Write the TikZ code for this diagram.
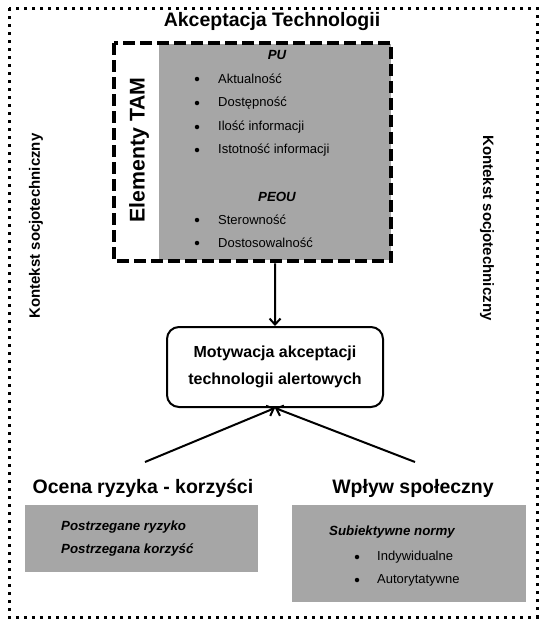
\documentclass[tikz,border=0pt]{standalone}
\usepackage{fontspec}
\setmainfont{Liberation Sans}
\usetikzlibrary{arrows.meta}
\definecolor{boxgray}{RGB}{166,166,166}
\begin{document}
\begin{tikzpicture}[x=1pt,y=1pt,
  outerframe/.style={line width=3pt, dash pattern=on 3pt off 5pt},
  tamframe/.style={line width=4pt, dash pattern=on 12pt off 5pt},
  grayarea/.style={fill=boxgray, inner sep=0pt, anchor=north west},
  itemtxt/.style={font=\fontsize{13}{15}\selectfont, anchor=west, inner sep=0pt},
  bulletdot/.style={circle, fill, inner sep=0pt, minimum size=4.5pt},
  headtxt/.style={font=\fontsize{13.3}{15}\selectfont\bfseries\itshape, inner sep=0pt},
  bigtxt/.style={font=\fontsize{19.5}{23}\selectfont\bfseries, inner sep=0pt},
  sidetxt/.style={font=\fontsize{15}{18}\selectfont\bfseries, inner sep=0pt},
  motivbox/.style={draw, line width=2pt, rounded corners=12pt, minimum width=216pt, minimum height=80pt, align=center, font=\fontsize{16}{27}\selectfont\bfseries},
  arr/.style={line width=2pt, -{Straight Barb[length=6pt,width=11pt,line width=2pt]}}
]
\useasboundingbox (0,0) rectangle (547,-627);
% outer dotted frame
\draw[outerframe] (9,-8) rectangle (537,-617);
% title
\node[bigtxt] (title) at (272,-21) {Akceptacja Technologii};
% TAM box
\node[grayarea, minimum width=232pt, minimum height=216pt] (tamgray) at (159,-44) {};
\draw[tamframe] (114,-43) rectangle (391,-261);
\node[font=\fontsize{21.3}{25}\selectfont\bfseries, rotate=90, inner sep=0pt] (tamlabel) at (139,-150) {Elementy TAM};
\node[headtxt] (pu) at (277,-55) {PU};
\node[bulletdot] (b1) at (197,-79) {};
\node[itemtxt] (i1) at (218,-79) {Aktualność};
\node[bulletdot] (b2) at (197,-103) {};
\node[itemtxt] (i2) at (218,-103) {Dostępność};
\node[bulletdot] (b3) at (197,-127) {};
\node[itemtxt] (i3) at (218,-127) {Ilość informacji};
\node[bulletdot] (b4) at (197,-150) {};
\node[itemtxt] (i4) at (218,-150) {Istotność informacji};
\node[headtxt] (peou) at (277,-197) {PEOU};
\node[bulletdot] (b5) at (197,-220) {};
\node[itemtxt] (i5) at (218,-220) {Sterowność};
\node[bulletdot] (b6) at (197,-243) {};
\node[itemtxt] (i6) at (218,-243) {Dostosowalność};
% motivation box
\node[motivbox] (motiv) at (275,-367) {Motywacja akceptacji\\technologii alertowych};
\draw[arr] (tamgray.south) ++(0,-3) -- (motiv.north);
% side labels
\node[sidetxt, rotate=90] (ctxl) at (36,-226) {Kontekst socjotechniczny};
\node[sidetxt, rotate=-90] (ctxr) at (487,-228) {Kontekst socjotechniczny};
% bottom arrows
\coordinate (la) at (145,-462);
\coordinate (ra) at (415,-462);
\draw[arr] (la) -- (motiv.south);
\draw[arr] (ra) -- (motiv.south);
% bottom headings
\node[bigtxt] (risk) at (143,-488) {Ocena\hspace{0.25em}ryzyka - korzyści};
\node[bigtxt] (soc) at (413,-488) {Wpływ społeczny};
% left gray box
\node[grayarea, minimum width=233pt, minimum height=67pt] (riskbox) at (25,-505) {};
\node[headtxt, anchor=west] (r1) at (61,-527) {Postrzegane ryzyko};
\node[headtxt, anchor=west] (r2) at (61,-550) {Postrzegana korzyść};
% right gray box
\node[grayarea, minimum width=234pt, minimum height=97pt] (socbox) at (292,-505) {};
\node[headtxt, anchor=west] (s0) at (329,-532) {Subiektywne normy};
\node[bulletdot] (sb1) at (357,-557) {};
\node[itemtxt] (s1) at (377,-557) {Indywidualne};
\node[bulletdot] (sb2) at (357,-580) {};
\node[itemtxt] (s2) at (377,-580) {Autorytatywne};
\end{tikzpicture}
\end{document}
